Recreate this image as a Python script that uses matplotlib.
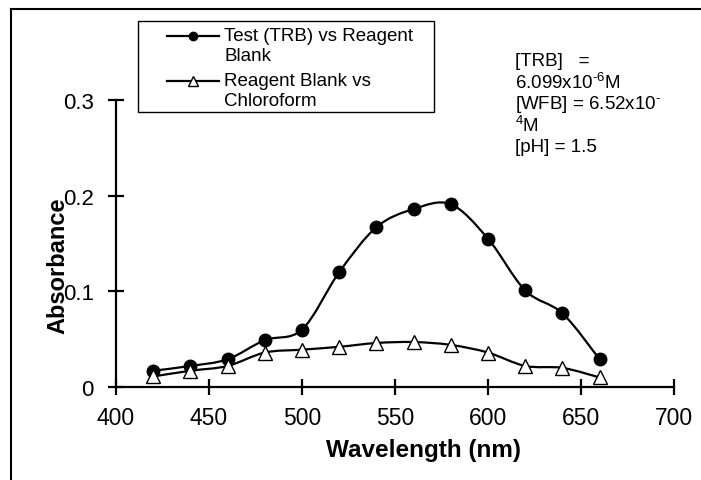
import numpy as np
import matplotlib
matplotlib.use("Agg")
import matplotlib.pyplot as plt
from matplotlib.path import Path
from matplotlib.patches import PathPatch, Rectangle
from matplotlib.lines import Line2D

plt.rcParams['font.family'] = ['Liberation Sans', 'DejaVu Sans']
plt.rcParams['mathtext.fontset'] = 'custom'
plt.rcParams['mathtext.rm'] = 'Liberation Sans'
plt.rcParams['mathtext.it'] = 'Liberation Sans'

# data
wavelength = [420, 440, 460, 480, 500, 520, 540, 560, 580, 600, 620, 640, 660]
test_vs_blank = [0.017, 0.022, 0.029, 0.049, 0.060, 0.120, 0.167, 0.186,
                 0.191, 0.155, 0.101, 0.077, 0.029]
blank_vs_chcl3 = [0.011, 0.017, 0.022, 0.036, 0.039, 0.042, 0.046, 0.047,
                  0.044, 0.036, 0.022, 0.020, 0.010]
x_ticks = [400, 450, 500, 550, 600, 650, 700]
y_ticks = [0, 0.1, 0.2, 0.3]
y_tick_labels = ["0", "0.1", "0.2", "0.3"]
legend_labels = [["Test (TRB) vs Reagent", "Blank"], ["Reagent Blank vs", "Chloroform"]]

W, H = 701, 481


def fx(px):
    return px / W


def fy(py):
    return 1 - py / H


def smooth_path(x, y):
    # excel-like smoothed line: catmull-rom segments as cubic beziers
    x = np.asarray(x, float)
    y = np.asarray(y, float)
    px = np.concatenate([[x[0]], x, [x[-1]]])
    py = np.concatenate([[y[0]], y, [y[-1]]])
    verts = [(x[0], y[0])]
    codes = [Path.MOVETO]
    for i in range(1, len(px) - 2):
        c1 = (px[i] + (px[i + 1] - px[i - 1]) / 6, py[i] + (py[i + 1] - py[i - 1]) / 6)
        c2 = (px[i + 1] - (px[i + 2] - px[i]) / 6, py[i + 1] - (py[i + 2] - py[i]) / 6)
        verts += [c1, c2, (px[i + 1], py[i + 1])]
        codes += [Path.CURVE4] * 3
    return Path(verts, codes)


fig = plt.figure(figsize=(W / 100, H / 100), dpi=100)
ax = fig.add_axes([fx(116), fy(388), 558 / W, 287 / H])

styles = [('o', 'black', 9), ('^', 'white', 10)]
for yv, (mk, fc, ms) in zip([test_vs_blank, blank_vs_chcl3], styles):
    ax.add_patch(PathPatch(smooth_path(wavelength, yv), facecolor='none',
                           edgecolor='black', lw=1.6, zorder=2))
    ax.plot(wavelength, yv, linestyle='none', marker=mk, markersize=ms,
            markerfacecolor=fc, markeredgecolor='black', markeredgewidth=1.0, zorder=3)

ax.set_xlim(400, 700)
ax.set_ylim(0, 0.3)
ax.set_xticks(x_ticks)
ax.set_yticks(y_ticks)
ax.set_yticklabels(y_tick_labels)
for s in ['top', 'right']:
    ax.spines[s].set_visible(False)
for s in ['left', 'bottom']:
    ax.spines[s].set_linewidth(1.6)
ax.tick_params(direction='inout', length=12, width=1.6)
ax.tick_params(axis='y', labelsize=16, pad=10)
ax.tick_params(axis='x', labelsize=16.5, pad=8)
ax.patch.set_alpha(0)

fig.text(fx(423), fy(451), "Wavelength (nm)", ha='center', va='center',
         fontsize=17.5, fontweight='bold')
fig.text(fx(58), fy(266), "Absorbance", ha='center', va='center',
         rotation=90, fontsize=17, fontweight='bold')

# legend box drawn by hand (handles sit on the first text line)
fig.add_artist(Rectangle((fx(138), fy(113)), (434 - 138) / W, (113 - 22) / H,
                         transform=fig.transFigure, facecolor='white',
                         edgecolor='black', lw=1.0))
entry_y = [37, 82]
for (mk, fc, ms), ey, lines in zip(styles, entry_y, legend_labels):
    fig.add_artist(Line2D([fx(167), fx(219)], [fy(ey), fy(ey)], color='black', lw=1.6))
    fig.add_artist(Line2D([fx(193)], [fy(ey)], marker=mk, markersize=ms - 3,
                          markerfacecolor=fc, markeredgecolor='black',
                          markeredgewidth=1.0, linestyle='none'))
    for k, t in enumerate(lines):
        fig.text(fx(224), fy(ey + 20 * k), t, ha='left', va='center', fontsize=13.5)

# annotation
notes = ["[TRB]   =", "6.099x10$^{\u20106}$M", "[WFB] = 6.52x10$^{\u2010}$",
         "$^{4}$M", "[pH] = 1.5"]
note_y = [62, 83, 105, 126, 147]
for t, yy in zip(notes, note_y):
    fig.text(fx(515), fy(yy), t, ha='left', va='center', fontsize=13.5)

# frame lines on top and left of the picture
fig.add_artist(Line2D([fx(11), 1], [fy(10), fy(10)], color='black', lw=1.5))
fig.add_artist(Line2D([fx(11), fx(11)], [0, fy(10)], color='black', lw=1.5))

fig.savefig("out.png", dpi=100)
